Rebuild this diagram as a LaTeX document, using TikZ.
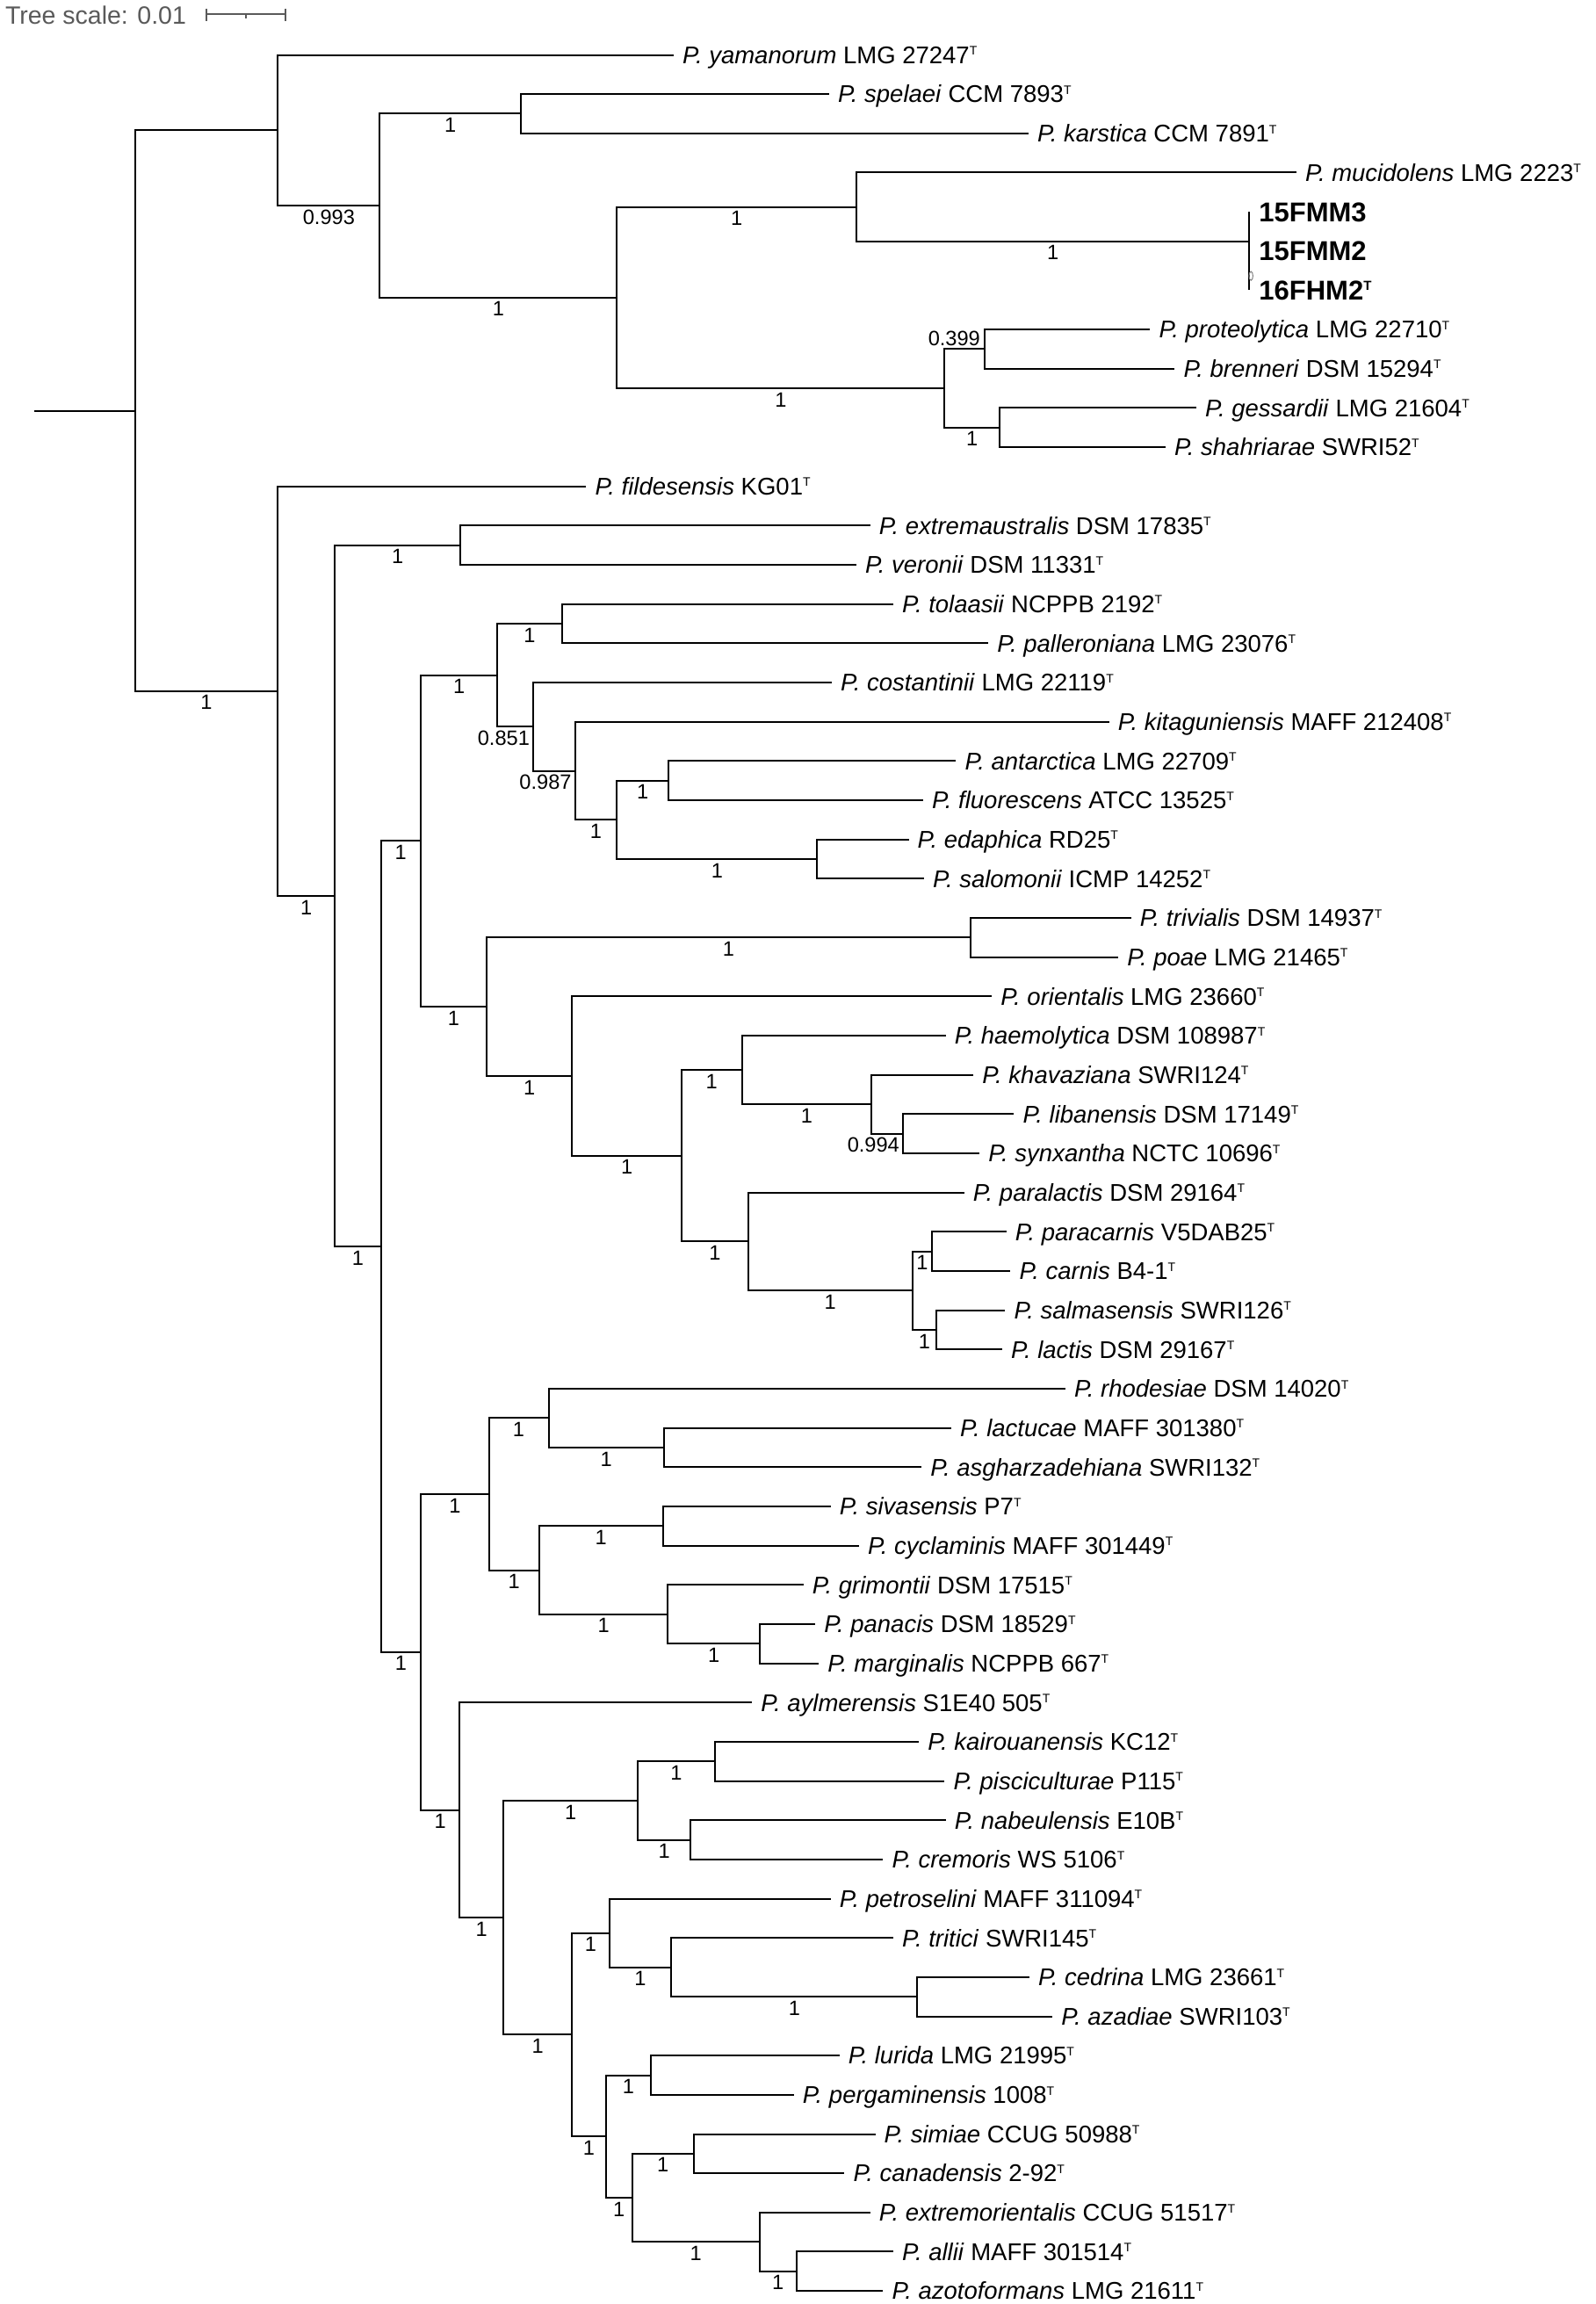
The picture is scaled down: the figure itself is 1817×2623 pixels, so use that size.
\documentclass[tikz,border=0pt]{standalone}
\usepackage{fontspec}
\setmainfont{Liberation Sans}
\usetikzlibrary{calc}
\definecolor{scalegray}{RGB}{90,90,90}
\tikzset{
  br/.style={line width=2pt, black},
  lf/.style={anchor=base west, inner sep=0pt, xshift=10pt, yshift=-9.8pt, font=\fontsize{27.5}{30}\selectfont},
  bdlf/.style={anchor=base west, inner sep=0pt, xshift=11pt, yshift=-11pt, font=\fontsize{31}{34}\selectfont\bfseries},
  bs/.style={inner sep=0pt, font=\fontsize{23.6}{26}\selectfont},
  sc/.style={line width=2pt, scalegray},
}
\newcommand\supT{\raisebox{9.6pt}{\fontsize{14}{14}\selectfont T}}
\newcommand\leaf[5]{\coordinate (#1) at (#3,{62.5+(#2-1)*44.66});
  \node[lf] (t-#1) at (#1) {\textit{P. #4} #5\supT};}
\newcommand\clade[4]{\path let \p1=($(#3)!0.5!(#4)$) in coordinate (#1) at (#2pt,\y1);
  \draw[br] (#3) -- (#1 |- #3) -- (#1 |- #4) -- (#4);}
\newcommand\bsl[3]{\path let \p1=(#1), \p2=(#2) in node[bs] (b-#2) at ({(\x1+\x2)/2},{\y2-13pt}) {#3};}
\newcommand\bsr[2]{\path let \p1=(#1) in node[bs,anchor=east] (b-#1) at ({\x1-4pt},{\y1-13pt}) {#2};}
\begin{document}
\begin{tikzpicture}[x=1pt,y=-1pt]
\useasboundingbox (0,0) rectangle (1817,2623);
\fill[white] (0,0) rectangle (1817,2623);
% tree scale
\node[anchor=west, inner sep=0pt, text=scalegray, font=\fontsize{28.5}{30}\selectfont] (ts) at (5.8,17.2) {Tree scale: 0.01};
\coordinate (sbl) at (235,15.9); \coordinate (sbr) at (325,15.9); \coordinate (sbm) at (280.3,15.9);
\draw[sc] (sbl) -- (sbr);
\draw[sc] ($(sbl)+(0,-6.4)$) -- ($(sbl)+(0,8.4)$);
\draw[sc] ($(sbr)+(0,-6.4)$) -- ($(sbr)+(0,8.4)$);
\draw[sc] (sbm) -- ($(sbm)+(0,5.1)$);
% leaves
\leaf{yam}{1}{767}{yamanorum}{LMG 27247}
\leaf{spe}{2}{943.9}{spelaei}{CCM 7893}
\leaf{kar}{3}{1170.8}{karstica}{CCM 7891}
\leaf{muc}{4}{1476}{mucidolens}{LMG 2223}
\coordinate (f3) at (1422.2,{62.5+4*44.66});
\node[bdlf] (t-f3) at (f3) {15FMM3};
\coordinate (f2) at (1422.2,{62.5+5*44.66});
\node[bdlf] (t-f2) at (f2) {15FMM2};
\coordinate (f16) at (1422.2,{62.5+6*44.66});
\node[bdlf] (t-f16) at (f16) {16FHM2\raisebox{11pt}{\fontsize{15}{15}\selectfont T}};
\leaf{pro}{8}{1309.4}{proteolytica}{LMG 22710}
\leaf{bre}{9}{1337.4}{brenneri}{DSM 15294}
\leaf{ges}{10}{1362}{gessardii}{LMG 21604}
\leaf{sha}{11}{1326.9}{shahriarae}{SWRI52}
\leaf{fil}{12}{667.4}{fildesensis}{KG01}
\leaf{exa}{13}{990.6}{extremaustralis}{DSM 17835}
\leaf{ver}{14}{974.9}{veronii}{DSM 11331}
\leaf{tol}{15}{1017}{tolaasii}{NCPPB 2192}
\leaf{pal}{16}{1125.1}{palleroniana}{LMG 23076}
\leaf{cos}{17}{946.8}{costantinii}{LMG 22119}
\leaf{kit}{18}{1262.6}{kitaguniensis}{MAFF 212408}
\leaf{ant}{19}{1088.3}{antarctica}{LMG 22709}
\leaf{flu}{20}{1050.9}{fluorescens}{ATCC 13525}
\leaf{eda}{21}{1034.5}{edaphica}{RD25}
\leaf{sal}{22}{1052}{salomonii}{ICMP 14252}
\leaf{tri}{23}{1287.7}{trivialis}{DSM 14937}
\leaf{poa}{24}{1273.1}{poae}{LMG 21465}
\leaf{ori}{25}{1129.2}{orientalis}{LMG 23660}
\leaf{hae}{26}{1076.6}{haemolytica}{DSM 108987}
\leaf{kha}{27}{1108.2}{khavaziana}{SWRI124}
\leaf{lib}{28}{1154.4}{libanensis}{DSM 17149}
\leaf{syn}{29}{1115.2}{synxantha}{NCTC 10696}
\leaf{prl}{30}{1097.7}{paralactis}{DSM 29164}
\leaf{pcr}{31}{1145.6}{paracarnis}{V5DAB25}
\leaf{car}{32}{1150.3}{carnis}{B4-1}
\leaf{slm}{33}{1144.4}{salmasensis}{SWRI126}
\leaf{lac}{34}{1141}{lactis}{DSM 29167}
\leaf{rho}{35}{1212.9}{rhodesiae}{DSM 14020}
\leaf{lct}{36}{1083}{lactucae}{MAFF 301380}
\leaf{asg}{37}{1049.1}{asgharzadehiana}{SWRI132}
\leaf{siv}{38}{945.6}{sivasensis}{P7}
\leaf{cyc}{39}{977.8}{cyclaminis}{MAFF 301449}
\leaf{gri}{40}{914.6}{grimontii}{DSM 17515}
\leaf{pan}{41}{928.1}{panacis}{DSM 18529}
\leaf{mar}{42}{932.2}{marginalis}{NCPPB 667}
\leaf{ayl}{43}{856.1}{aylmerensis}{S1E40 505}
\leaf{kai}{44}{1046.2}{kairouanensis}{KC12}
\leaf{pis}{45}{1075.4}{pisciculturae}{P115}
\leaf{nab}{46}{1076.6}{nabeulensis}{E10B}
\leaf{cre}{47}{1005.3}{cremoris}{WS 5106}
\leaf{pet}{48}{945.6}{petroselini}{MAFF 311094}
\leaf{trt}{49}{1017}{tritici}{SWRI145}
\leaf{ced}{50}{1171.9}{cedrina}{LMG 23661}
\leaf{aza}{51}{1198.2}{azadiae}{SWRI103}
\leaf{lur}{52}{955.6}{lurida}{LMG 21995}
\leaf{per}{53}{903.7}{pergaminensis}{1008}
\leaf{sim}{54}{996.5}{simiae}{CCUG 50988}
\leaf{can}{55}{961.4}{canadensis}{2-92}
\leaf{exo}{56}{990.6}{extremorientalis}{CCUG 51517}
\leaf{all}{57}{1017}{allii}{MAFF 301514}
\leaf{azo}{58}{1005.3}{azotoformans}{LMG 21611}
% upper clade
\clade{nSK}{593}{spe}{kar}
\path let \p1=($(f2)!0.5!(f16)$) in coordinate (nF2) at (1422.2pt,\y1);
\path let \p1=($(f3)!0.5!(nF2)$) in coordinate (nFMM) at (1422.2pt,\y1);
\draw[br] (f3) -- (f16);
\draw[gray, line width=1pt] ($(nF2)+(2,6)$) ellipse [x radius=2.2pt, y radius=5pt];
\clade{nMF}{974.9}{muc}{nFMM}
\clade{nPB}{1121}{pro}{bre}
\clade{nGS}{1138}{ges}{sha}
\clade{nPG}{1075.4}{nPB}{nGS}
\clade{nA2}{702.3}{nMF}{nPG}
\clade{nA1}{432.4}{nSK}{nA2}
\clade{nA0}{316.3}{yam}{nA1}
% lower clade
\clade{nEV}{524.1}{exa}{ver}
\clade{nTP}{639.6}{tol}{pal}
\clade{nAF}{760.9}{ant}{flu}
\clade{nES}{930.4}{eda}{sal}
\clade{nC1d}{702.3}{nAF}{nES}
\clade{nC1c}{654.7}{kit}{nC1d}
\clade{nC1b}{607.1}{cos}{nC1c}
\clade{nC1}{566.4}{nTP}{nC1b}
\clade{nTrP}{1104.7}{tri}{poa}
\clade{nLS}{1028}{lib}{syn}
\clade{nKLS}{992.4}{kha}{nLS}
\clade{nC5}{844.5}{hae}{nKLS}
\clade{nPC}{1061.4}{pcr}{car}
\clade{nSL}{1066.1}{slm}{lac}
\clade{nC7}{1038.6}{nPC}{nSL}
\clade{nC6}{852}{prl}{nC7}
\clade{nC4}{776}{nC5}{nC6}
\clade{nC3}{651.2}{ori}{nC4}
\clade{nC2}{554.3}{nTrP}{nC3}
\clade{nC}{478.8}{nC1}{nC2}
\clade{nLA}{755.7}{lct}{asg}
\clade{nE1}{624.5}{rho}{nLA}
\clade{nSC}{754.5}{siv}{cyc}
\clade{nPM}{865.3}{pan}{mar}
\clade{nGPM}{760.3}{gri}{nPM}
\clade{nE2}{614}{nSC}{nGPM}
\clade{nE}{556.6}{nE1}{nE2}
\clade{nKP}{813.7}{kai}{pis}
\clade{nNC}{786.4}{nab}{cre}
\clade{nH}{726}{nKP}{nNC}
\clade{nCA}{1044.4}{ced}{aza}
\clade{nTCA}{764.4}{trt}{nCA}
\clade{nJ}{693.6}{pet}{nTCA}
\clade{nLP}{741.2}{lur}{per}
\clade{nSC2}{789.9}{sim}{can}
\clade{nAA}{906.6}{all}{azo}
\clade{nN}{864.8}{exo}{nAA}
\clade{nM}{719.7}{nSC2}{nN}
\clade{nK}{689.5}{nLP}{nM}
\clade{nI}{651.2}{nJ}{nK}
\clade{nG}{573.4}{nH}{nI}
\clade{nF}{522.9}{ayl}{nG}
\clade{nD}{479.4}{nE}{nF}
\clade{nB2}{433.5}{nC}{nD}
\clade{nB1}{381.3}{nEV}{nB2}
\clade{nB0}{316.3}{fil}{nB1}
\clade{root}{153.8}{nA0}{nB0}
\path let \p1=(root) in coordinate (r0) at (38.9pt,\y1);
\draw[br] (r0) -- (root);
% support values
\bsl{nA1}{nSK}{1}
\bsl{nMF}{nFMM}{1}
\bsl{nA2}{nMF}{1}
\bsl{nPG}{nGS}{1}
\bsl{nA2}{nPG}{1}
\bsl{nA1}{nA2}{1}
\bsl{nA0}{nA1}{0.993}
\path let \p1=(nPB) in node[bs,anchor=east] (b-nPB) at ({\x1-5pt},{\y1+12pt}) {0.399};
\bsl{root}{nB0}{1}
\bsl{nB0}{nB1}{1}
\bsl{nB1}{nEV}{1}
\bsl{nB1}{nB2}{1}
\bsl{nB2}{nC}{1}
\bsl{nC}{nC1}{1}
\bsl{nC1}{nTP}{1}
\bsr{nC1b}{0.851}
\bsr{nC1c}{0.987}
\bsl{nC1c}{nC1d}{1}
\bsl{nC1d}{nAF}{1}
\bsl{nC1d}{nES}{1}
\bsl{nC}{nC2}{1}
\bsl{nC2}{nTrP}{1}
\bsl{nC2}{nC3}{1}
\bsl{nC3}{nC4}{1}
\bsl{nC4}{nC5}{1}
\bsl{nC5}{nKLS}{1}
\bsr{nLS}{0.994}
\bsl{nC4}{nC6}{1}
\bsl{nC6}{nC7}{1}
\bsl{nC7}{nPC}{1}
\bsl{nC7}{nSL}{1}
\bsl{nB2}{nD}{1}
\bsl{nD}{nE}{1}
\bsl{nE}{nE1}{1}
\bsl{nE1}{nLA}{1}
\bsl{nE}{nE2}{1}
\bsl{nE2}{nSC}{1}
\bsl{nE2}{nGPM}{1}
\bsl{nGPM}{nPM}{1}
\bsl{nD}{nF}{1}
\bsl{nF}{nG}{1}
\bsl{nG}{nH}{1}
\bsl{nH}{nKP}{1}
\bsl{nH}{nNC}{1}
\bsl{nG}{nI}{1}
\bsl{nI}{nJ}{1}
\bsl{nJ}{nTCA}{1}
\bsl{nTCA}{nCA}{1}
\bsl{nI}{nK}{1}
\bsl{nK}{nLP}{1}
\bsl{nK}{nM}{1}
\bsl{nM}{nSC2}{1}
\bsl{nM}{nN}{1}
\bsl{nN}{nAA}{1}
\end{tikzpicture}
\end{document}
